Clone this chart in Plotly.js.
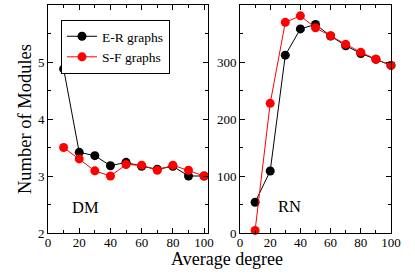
<!DOCTYPE html>
<html><head><meta charset="utf-8">
<script src="https://cdn.plot.ly/plotly-3.0.1.min.js"></script>
<style>html,body{margin:0;padding:0;background:#fff}</style>
</head><body><div id="chart" style="width:415px;height:279px"></div>
<script>
const degree = [10,20,30,40,50,60,70,80,90,100];
const dmER = [4.88,3.415,3.357,3.18,3.24,3.17,3.12,3.17,3.0,3.0];
const dmSF = [3.50,3.30,3.09,3.0,3.2,3.19,3.1,3.19,3.1,3.0];
const rnER = [54,108.7,312,358,366,345.6,328.6,315,304.7,294];
const rnSF = [4.6,227.5,369.6,381,360,346,331,317,305,294];
const seriesNames = ["E-R graphs","S-F graphs"];
const panelLabels = ["DM","RN"];
const xTitle = "Average degree";
const yTitle = "Number of Modules";

const font = {family:"Liberation Serif", color:"#000"};
const mk = (c)=>({color:c, size:9});
const ln = (c)=>({color:c, width:1});
const data = [
  {x:degree, y:dmER, name:seriesNames[0], mode:"lines+markers", marker:mk("#000"), line:ln("#000"), xaxis:"x", yaxis:"y", cliponaxis:false},
  {x:degree, y:dmSF, name:seriesNames[1], mode:"lines+markers", marker:mk("#ff0000"), line:ln("#ff0000"), xaxis:"x", yaxis:"y", cliponaxis:false},
  {x:degree, y:rnER, name:seriesNames[0], showlegend:false, mode:"lines+markers", marker:mk("#000"), line:ln("#000"), xaxis:"x2", yaxis:"y2", cliponaxis:false},
  {x:degree, y:rnSF, name:seriesNames[1], showlegend:false, mode:"lines+markers", marker:mk("#ff0000"), line:ln("#ff0000"), xaxis:"x2", yaxis:"y2", cliponaxis:false}
];
const axBase = {showgrid:false, zeroline:false, showline:true, linecolor:"#000", linewidth:1,
  mirror:"allticks", ticks:"inside", ticklen:5, tickcolor:"#000", tickwidth:1, automargin:false,
  tickfont:Object.assign({size:13}, font)};
const layout = {
  width:415, height:279,
  margin:{l:0,r:0,t:0,b:0},
  paper_bgcolor:"#fff", plot_bgcolor:"#fff",
  font:font,
  showlegend:true,
  legend:{x:61/415, y:1-20/279, xref:"paper", yref:"paper",
    xanchor:"left", yanchor:"top", bordercolor:"#000", borderwidth:1, bgcolor:"#fff",
    font:Object.assign({size:13.5}, font), tracegroupgap:0, itemwidth:30},
  xaxis:Object.assign({}, axBase, {domain:[48/415, 208/415], range:[0,102.5], dtick:20, tick0:0,
    ticklabelstandoff:-3,
    minor:{ticks:"inside", dtick:10, ticklen:3, tickcolor:"#000"}, anchor:"y"}),
  yaxis:Object.assign({}, axBase, {domain:[1-233/279, 1-5/279], range:[2,6], dtick:1,
    minor:{ticks:"inside", dtick:0.5, ticklen:3, tickcolor:"#000"}, anchor:"x"}),
  xaxis2:Object.assign({}, axBase, {domain:[240/415, 391/415], range:[0,100], dtick:20,
    ticklabelstandoff:-3,
    minor:{ticks:"inside", dtick:10, ticklen:3, tickcolor:"#000"}, anchor:"y2"}),
  yaxis2:Object.assign({}, axBase, {domain:[1-233/279, 1-5/279], range:[0,400], dtick:100,
    minor:{ticks:"inside", dtick:50, ticklen:3, tickcolor:"#000"}, anchor:"x2"}),
  annotations:[
    {text:panelLabels[0], x:24.3, y:2.44, xref:"x", yref:"y", xanchor:"center", yanchor:"middle", showarrow:false, font:Object.assign({size:16.5}, font)},
    {text:panelLabels[1], x:33, y:46.7, xref:"x2", yref:"y2", xanchor:"center", yanchor:"middle", showarrow:false, font:Object.assign({size:16.5}, font)},
    {text:xTitle, x:227/415, y:1-259/279, xref:"paper", yref:"paper", xanchor:"center", yanchor:"middle", showarrow:false, font:Object.assign({size:18}, font)},
    {text:yTitle, x:25/415, y:1-119/279, xref:"paper", yref:"paper", xanchor:"center", yanchor:"middle", showarrow:false, textangle:-90, font:Object.assign({size:18.5}, font)}
  ]
};
Plotly.newPlot("chart", data, layout, {displayModeBar:false, staticPlot:true});
</script></body></html>
